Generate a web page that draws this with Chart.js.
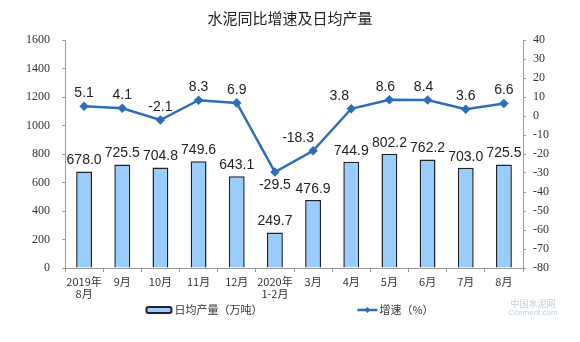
<!DOCTYPE html>
<html>
<head>
<meta charset="utf-8">
<script src="https://cdn.jsdelivr.net/npm/chart.js@4.4.0/dist/chart.umd.min.js"></script>
<style>
  html, body { margin: 0; padding: 0; background: #fff; }
  #wrap { width: 580px; height: 342px; }
</style>
</head>
<body>
<div id="wrap"><canvas id="cementChart"></canvas></div>
<script>
// 月份
const months = [['2019年', '8月'], '9月', '10月', '11月', '12月', ['2020年', '1-2月'], '3月', '4月', '5月', '6月', '7月', '8月'];
// 日均产量（万吨）
const dailyOutput = [678.0, 725.5, 704.8, 749.6, 643.1, 249.7, 476.9, 744.9, 802.2, 762.2, 703.0, 725.5];
// 同比增速（%）
const growthRate = [5.1, 4.1, -2.1, 8.3, 6.9, -29.5, -18.3, 3.8, 8.6, 8.4, 3.6, 6.6];

const barColor = '#99CCFF';
const lineColor = '#2E6DB8';
const cjkFont = '"Noto Sans CJK SC", "Noto Sans", sans-serif';
const serifFont = '"Liberation Serif", "Times New Roman", serif';

// 数值标签
const valueLabels = {
    id: 'valueLabels',
    afterDatasetsDraw(chart) {
        const c = chart.ctx;
        c.save();
        c.font = '14px "Liberation Sans", Arial, sans-serif';
        c.fillStyle = '#222';
        c.textAlign = 'center';
        c.textBaseline = 'middle';

        const barMeta = chart.getDatasetMeta(1);
        barMeta.data.forEach((el, i) => {
            c.fillText(dailyOutput[i].toFixed(1), el.x, el.y - 11);
        });

        // 个别标签左移，避开折线
        const nudge = { 6: -15, 7: -12, 8: -4, 9: -4 };
        const lineMeta = chart.getDatasetMeta(0);
        lineMeta.data.forEach((el, i) => {
            const dy = growthRate[i] === Math.min(...growthRate) ? 13 : -13;
            c.fillText(growthRate[i].toFixed(1), el.x + (nudge[i] || 0), el.y + dy);
        });
        c.restore();
    }
};

// 底部图例 + 水印
const bottomLegend = {
    id: 'bottomLegend',
    afterDraw(chart) {
        const c = chart.ctx;
        c.save();
        c.font = '11px ' + cjkFont;
        const t1 = '日均产量（万吨）';
        const t2 = '增速（%）';
        const w1 = 28 + c.measureText(t1).width;
        const w2 = 22 + c.measureText(t2).width;
        const gap = 95;
        let x = (chart.width - (w1 + gap + w2)) / 2;
        const y = 310;

        // 柱形图例
        c.beginPath();
        c.roundRect(x, y - 3, 25, 6, 2);
        c.fillStyle = barColor;
        c.fill();
        c.lineWidth = 2;
        c.strokeStyle = '#222';
        c.stroke();
        c.fillStyle = '#333';
        c.textBaseline = 'middle';
        c.fillText(t1, x + 28, y);

        // 折线图例
        x += w1 + gap;
        c.beginPath();
        c.moveTo(x, y);
        c.lineTo(x + 20, y);
        c.lineWidth = 2.5;
        c.strokeStyle = lineColor;
        c.stroke();
        c.beginPath();
        c.moveTo(x + 10, y - 3);
        c.lineTo(x + 13, y);
        c.lineTo(x + 10, y + 3);
        c.lineTo(x + 7, y);
        c.closePath();
        c.fillStyle = lineColor;
        c.fill();
        c.fillStyle = '#333';
        c.fillText(t2, x + 22, y);

        // 水印
        c.textAlign = 'center';
        c.fillStyle = 'rgba(110,140,190,0.45)';
        c.font = '9px ' + cjkFont;
        c.fillText('中国水泥网', 533, 304);
        c.font = '8px "Liberation Sans", Arial, sans-serif';
        c.fillText('Ccement.com', 533, 313);
        c.restore();
    }
};

new Chart(document.getElementById('cementChart'), {
    data: {
        labels: months,
        datasets: [
            {
                type: 'line',
                label: '增速（%）',
                data: growthRate,
                yAxisID: 'y1',
                borderColor: lineColor,
                backgroundColor: lineColor,
                borderWidth: 2.5,
                pointStyle: 'rectRot',
                pointRadius: 3,
                tension: 0,
                order: 0
            },
            {
                type: 'bar',
                label: '日均产量（万吨）',
                data: dailyOutput,
                yAxisID: 'y',
                backgroundColor: barColor,
                borderColor: '#222',
                borderWidth: 1.5,
                barPercentage: 0.52,
                categoryPercentage: 0.8,
                order: 1
            }
        ]
    },
    options: {
        responsive: true,
        maintainAspectRatio: false,
        animation: false,
        layout: { padding: { left: 0, right: 0, top: 0, bottom: 38 } },
        plugins: {
            legend: { display: false },
            tooltip: { enabled: false },
            title: {
                display: true,
                text: '水泥同比增速及日均产量',
                color: '#222',
                font: { family: cjkFont, size: 15, weight: 'normal', lineHeight: 1.2 },
                padding: { top: 9, bottom: 13 }
            }
        },
        scales: {
            x: {
                grid: { drawOnChartArea: false, tickLength: 4, color: '#999', offset: true },
                border: { color: '#999' },
                ticks: {
                    color: '#333',
                    font: { family: cjkFont, size: 11, lineHeight: 1.05 },
                    padding: 4,
                    maxRotation: 0,
                    autoSkip: false
                },
                afterFit: scale => { scale.height = 36; }
            },
            y: {
                position: 'left',
                min: 0,
                max: 1600,
                ticks: {
                    stepSize: 200,
                    color: '#333',
                    font: { family: serifFont, size: 12 },
                    padding: 12,
                    callback: v => String(v)
                },
                grid: { drawOnChartArea: false, tickLength: 3, color: '#999' },
                border: { color: '#999' },
                afterFit: scale => { scale.width = 65; }
            },
            y1: {
                position: 'right',
                min: -80,
                max: 40,
                ticks: {
                    stepSize: 10,
                    color: '#333',
                    font: { family: serifFont, size: 12 },
                    padding: 7,
                    callback: v => String(v)
                },
                grid: { drawOnChartArea: false, tickLength: 3, color: '#999' },
                border: { color: '#999' },
                afterFit: scale => { scale.width = 57; }
            }
        }
    },
    plugins: [valueLabels, bottomLegend]
});
</script>
</body>
</html>
